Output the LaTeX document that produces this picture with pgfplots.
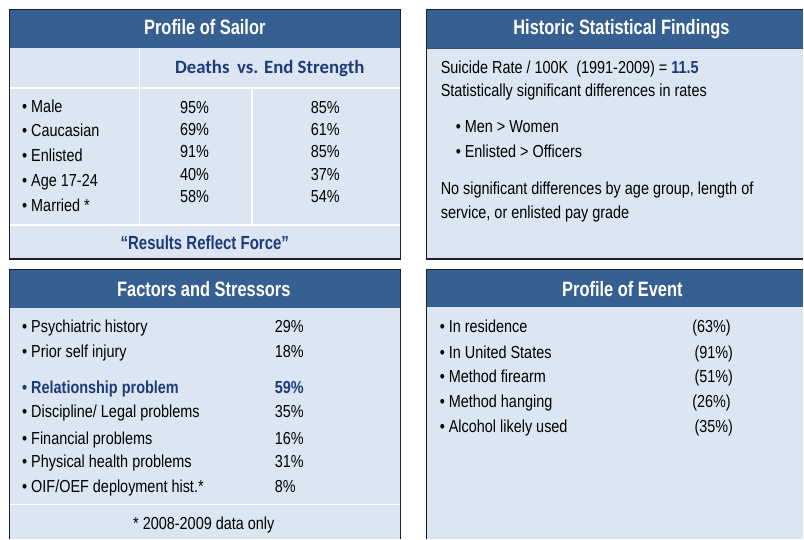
\documentclass[border=0pt]{standalone}
\usepackage{fontspec}
\setmainfont{Liberation Sans}[FakeStretch=0.83]
\newfontfamily\titlef{Liberation Sans}[FakeStretch=0.79]
\newfontfamily\calf{Carlito}
\usepackage{pgfplots}
\pgfplotsset{compat=1.18}
\definecolor{hdr}{HTML}{376092}
\definecolor{panel}{HTML}{DCE6F2}
\definecolor{navy}{HTML}{1F3A78}
\definecolor{edge}{HTML}{1E1E2A}
\newcommand{\bodyfs}{\fontsize{17.4}{20}\selectfont}
\newcommand{\titlefs}{\titlef\bfseries\fontsize{20.8}{24}\selectfont}
\pgfplotsset{
  vals/.style={only marks, mark=*, mark size=0pt, mark options={draw=none,fill=none},
    point meta=explicit symbolic, nodes near coords,
    every node near coord/.append style={anchor=#1, font=\bodyfs, text=black, inner sep=0pt}},
}
\tikzset{lbl/.style={anchor=base west, font=\bodyfs, inner sep=0pt}}
\begin{document}
\begin{tikzpicture}
\begin{axis}[width=804pt, height=539pt, scale only axis,
  xmin=0, xmax=804, ymin=0, ymax=539, y dir=reverse, hide axis, clip=false]
% background
\fill[white] (0,0) rectangle (804,539);
% ---------- Panel 1 ----------
\fill[panel] (9.5,9.5) rectangle (401,259);
\fill[hdr] (9.5,9.5) rectangle (401,48.5);
\draw[white, line width=1.6pt] (9.5,88) -- (401,88);
\draw[white, line width=1.6pt] (9.5,225) -- (401,225);
\draw[white, line width=1.6pt] (139.5,48.5) -- (139.5,225);
\draw[white, line width=1.6pt] (252,88) -- (252,225);
\draw[edge, line width=1.5pt] (9.5,9.5) rectangle (401,259);
% ---------- Panel 2 ----------
\fill[panel] (427,9.5) rectangle (804,259);
\fill[hdr] (427,9.5) rectangle (804,48.3);
\draw[edge!80, line width=1pt] (427,48.3) -- (804,48.3);
\draw[edge, line width=1.5pt] (804,9.5) -- (427,9.5) -- (427,259) -- (804,259);
% ---------- Panel 3 ----------
\fill[panel] (9.5,270) rectangle (401,539);
\fill[hdr] (9.5,270) rectangle (401,308);
\draw[white, line width=1.6pt] (9.5,505) -- (401,505);
\draw[edge, line width=1.5pt] (9.5,539) -- (9.5,270) -- (401,270) -- (401,539);
% ---------- Panel 4 ----------
\fill[panel] (427,270) rectangle (804,539);
\fill[hdr] (427,270) rectangle (804,307);
\draw[edge, line width=1.5pt] (427,539) -- (427,270) -- (804,270);

% ---------- Titles ----------
\node[anchor=base, font=\titlefs, text=white, inner sep=0pt] at (205,35) {Profile of Sailor};
\node[anchor=base, font=\titlefs, text=white, inner sep=0pt] at (622,35) {Historic Statistical Findings};
\node[anchor=base, font=\titlefs, text=white, inner sep=0pt] at (204,296.7) {Factors and Stressors};
\node[anchor=base, font=\titlefs, text=white, inner sep=0pt] at (623,296.7) {Profile of Event};

% ---------- Panel 1 text ----------
\node[anchor=base west, font=\calf\bfseries\fontsize{18.8}{22}\selectfont, text=navy, inner sep=0pt] at (175,74) {Deaths};
\node[anchor=base east, font=\calf\bfseries\fontsize{18.8}{22}\selectfont, text=navy, inner sep=0pt] at (365,74) {vs. End Strength};
\node[lbl] at (22,113) {• Male};
\node[lbl] at (22,137) {• Caucasian};
\node[lbl] at (22,162) {• Enlisted};
\node[lbl] at (22,186.5) {• Age 17-24};
\node[lbl] at (22,211.5) {• Married *};
\addplot[vals=base] coordinates {
  (194.7,113.3) [95\%] (194.7,135.7) [69\%] (194.7,157.8) [91\%] (194.7,180.3) [40\%] (194.7,202.5) [58\%]};
\addplot[vals=base] coordinates {
  (325.5,113.3) [85\%] (325.5,135.7) [61\%] (325.5,157.8) [85\%] (325.5,180.3) [37\%] (325.5,202.5) [54\%]};
\node[anchor=base, font=\titlef\bfseries\fontsize{19}{22}\selectfont, text=navy, inner sep=0pt] at (205,249.3) {“Results Reflect Force”};

% ---------- Panel 2 text ----------
\node[lbl] at (441,73.3) {Suicide Rate / 100K~ (1991-2009) = \textcolor{navy}{\bfseries 11.5}};
\node[lbl] at (441,97) {Statistically significant differences in rates};
\node[lbl] at (456,132.7) {• Men > Women};
\node[lbl] at (456,157.3) {• Enlisted > Officers};
\node[lbl] at (441,195) {No significant differences by age group, length of};
\node[lbl] at (441,218.5) {service, or enlisted pay grade};

% ---------- Panel 3 text ----------
\node[lbl] at (22,333.3) {• Psychiatric history};
\node[lbl] at (22,358.3) {• Prior self injury};
\node[lbl, font=\bodyfs\bfseries, text=navy] at (22,394.3) {• Relationship problem};
\node[lbl] at (22,418.3) {• Discipline/ Legal problems};
\node[lbl] at (22,445) {• Financial problems};
\node[lbl] at (22,467.7) {• Physical health problems};
\node[lbl] at (22,493.3) {• OIF/OEF deployment hist.*};
\addplot[vals=base west] coordinates {
  (275,333.3) [29\%] (275,358.3) [18\%] (275,418.3) [35\%] (275,445) [16\%] (275,467.7) [31\%] (275,493.3) [8\%]};
\addplot[vals=base west, every node near coord/.append style={text=navy, font=\bodyfs\bfseries}] coordinates {
  (275,394.3) [59\%]};
\node[anchor=base, font=\bodyfs, inner sep=0pt] at (204,530) {* 2008-2009 data only};

% ---------- Panel 4 text ----------
\node[lbl] at (440,333.3) {• In residence};
\node[lbl] at (440,359.3) {• In United States};
\node[lbl] at (440,383.3) {• Method firearm};
\node[lbl] at (440,408.3) {• Method hanging};
\node[lbl] at (440,433.3) {• Alcohol likely used};
\addplot[vals=base west] coordinates {
  (692.7,333.3) [(63\%)] (695,359.3) [(91\%)] (695,383.3) [(51\%)] (692.7,408.3) [(26\%)] (695,433.3) [(35\%)]};
\end{axis}
\end{tikzpicture}
\end{document}
